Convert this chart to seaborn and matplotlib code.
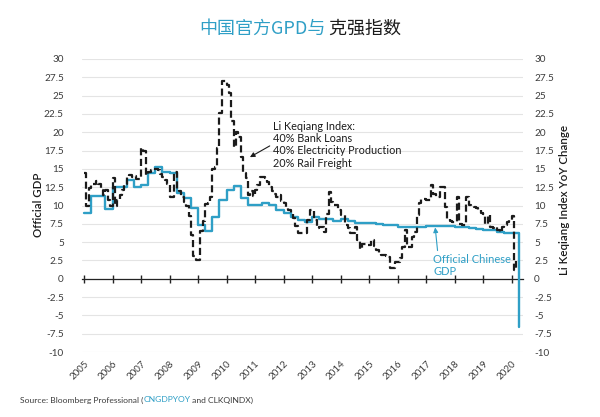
import numpy as np
import pandas as pd
import matplotlib
matplotlib.use("Agg")
import matplotlib.pyplot as plt
import seaborn as sns
from matplotlib.ticker import MultipleLocator, FuncFormatter

# -----------------------------------------------------
# DATA
# -----------------------------------------------------
START_YEAR = 2005
years = list(range(2005, 2021))

# official GDP YoY, quarterly, from Q1 2005
gdp_values = [
    9.0, 11.3, 11.3, 9.5,
    12.5, 12.5, 13.5, 12.5,
    12.8, 14.4, 15.2, 14.6,
    14.4, 11.7, 11.0, 9.6,
    7.3, 6.5, 8.4, 10.8,
    12.1, 12.6, 11.0, 10.1,
    10.1, 10.4, 10.1, 9.4,
    9.0, 8.4, 8.0, 7.8,
    8.4, 8.1, 8.1, 7.9,
    8.2, 7.9, 7.6, 7.6,
    7.55, 7.5, 7.3, 7.3,
    7.1, 7.1, 7.0, 7.1,
    7.15, 7.2, 7.25, 7.2,
    7.1, 7.0, 6.9, 6.8,
    6.7, 6.6, 6.4, 6.3,
    6.3, -6.6,
]

# Li Keqiang index YoY, monthly, from Jan 2005
lk_values = [
    14.4, 10.0, 12.4, 12.8, 13.0, 13.3, 13.0, 12.1, 11.4, 12.1, 10.7, 10.0,   # 2005
    13.7, 10.0, 10.7, 11.4, 12.1, 13.0, 13.9, 14.1, 13.9, 14.0, 13.6, 13.6,   # 2006
    17.9, 17.4, 14.2, 14.6, 14.8, 15.0, 15.0, 14.8, 14.3, 13.9, 13.5, 13.0,   # 2007
    11.2, 11.2, 14.6, 12.1, 12.0, 11.2, 10.5, 9.9, 8.5, 6.0, 3.1, 2.6,        # 2008
    2.6, 6.5, 7.9, 10.2, 10.3, 11.1, 15.0, 15.3, 17.8, 22.6, 27.0, 27.0,      # 2009
    26.5, 25.3, 21.6, 18.0, 20.0, 19.4, 16.6, 14.4, 13.8, 11.4, 12.0, 11.3,   # 2010
    12.1, 12.8, 13.9, 13.9, 13.7, 13.2, 12.5, 12.0, 11.6, 11.2, 11.4, 10.6,   # 2011
    10.3, 9.8, 9.4, 8.8, 8.3, 7.2, 6.2, 6.2, 6.2, 6.2, 8.0, 9.4,              # 2012
    9.4, 8.0, 6.9, 7.1, 7.1, 6.4, 8.9, 11.9, 10.5, 10.1, 10.1, 9.4,           # 2013
    8.7, 8.7, 7.3, 6.9, 6.2, 6.2, 7.1, 5.3, 4.1, 4.8, 4.8, 4.6,               # 2014
    4.6, 5.3, 4.5, 3.9, 3.5, 3.3, 3.2, 3.1, 3.0, 1.5, 1.5, 2.3,               # 2015
    2.3, 2.8, 4.4, 6.7, 4.4, 4.4, 5.7, 6.4, 8.7, 10.3, 10.9, 10.9,            # 2016
    10.7, 10.7, 12.8, 11.6, 11.2, 11.2, 12.5, 12.5, 9.8, 8.2, 7.9, 7.8,       # 2017
    7.8, 11.2, 7.5, 7.3, 7.3, 11.2, 10.1, 10.0, 9.8, 9.6, 9.4, 9.0,           # 2018
    8.9, 7.5, 8.7, 7.0, 6.9, 7.1, 6.6, 6.4, 7.1, 7.4, 7.8, 8.0,               # 2019
    8.5, 1.2, 2.4,                                                            # 2020
]

index_note = "Li Keqiang Index:\n40% Bank Loans\n40% Electricity Production\n20% Rail Freight"
gdp_note = "Official Chinese\nGDP"

BLUE = "#2f9fc6"
DARK = "#1b1b1b"
GREY = "#3c3c3c"

gdp = pd.DataFrame({"t": START_YEAR + np.arange(len(gdp_values)) / 4, "v": gdp_values})
lk = pd.DataFrame({"t": START_YEAR + np.arange(len(lk_values)) / 12, "v": lk_values})

# -----------------------------------------------------
# PLOT
# -----------------------------------------------------
sns.set_theme(style="white")
plt.rcParams["font.family"] = ["Lato", "DejaVu Sans"]

fig = plt.figure(figsize=(6, 4.17), dpi=100)
ax = fig.add_axes([82 / 600, 1 - 352 / 417, 441 / 600, 293 / 417])

YMIN, YMAX = -10, 30
ax.set_ylim(YMIN, YMAX)
ax.set_xlim(2004.93, 2020.40)

ax.yaxis.set_major_locator(MultipleLocator(2.5))
ax.yaxis.set_major_formatter(FuncFormatter(lambda v, p: f"{v:g}"))
ax.grid(axis="y", color="#e4e4e4", lw=0.8)
ax.grid(axis="x", visible=False)
for k in ("top", "left", "right"):
    ax.spines[k].set_visible(False)

# bottom spine moved onto the zero line, carrying the year ticks
ax.spines["bottom"].set_position(("data", 0))
ax.spines["bottom"].set_color("#222222")
ax.spines["bottom"].set_linewidth(0.9)
ax.spines["bottom"].set_zorder(2)

sns.lineplot(data=gdp, x="t", y="v", ax=ax, color=BLUE, lw=1.7,
             drawstyle="steps-post", estimator=None, zorder=3)
sns.lineplot(data=lk, x="t", y="v", ax=ax, color=DARK, lw=1.6,
             ls=(0, (3.2, 1.6)), drawstyle="steps-post", estimator=None, zorder=4)

ax.set_xlabel("")
ax.set_ylabel("")
ax.set_xticks(years)
ax.set_xticklabels([])
ax.tick_params(axis="x", bottom=True, direction="inout", length=6, width=1.0,
               color="#222222")
ax.tick_params(axis="y", length=0, pad=13, labelsize=7.2, labelcolor=GREY)

# year labels along the bottom edge
lab = ax.secondary_xaxis("bottom")
lab.set_xticks(years)
lab.set_xticklabels([str(y) for y in years], rotation=45, ha="right",
                    rotation_mode="anchor", fontsize=7, color=GREY)
lab.tick_params(axis="x", length=0, pad=5)
for s in lab.spines.values():
    s.set_visible(False)

ax2 = ax.twinx()
ax2.set_ylim(YMIN, YMAX)
ax2.yaxis.set_major_locator(MultipleLocator(2.5))
ax2.yaxis.set_major_formatter(FuncFormatter(lambda v, p: f"{v:g}"))
ax2.tick_params(axis="y", length=0, pad=8, labelsize=7.2, labelcolor=GREY)
ax2.grid(False)
for s in ax2.spines.values():
    s.set_visible(False)

# annotations
ax.annotate(index_note, xy=(2010.82, 16.6), xytext=(2011.63, 21.6),
            fontsize=7.8, color=DARK, va="top", ha="left", linespacing=1.15,
            arrowprops=dict(arrowstyle="-|>", color=DARK, lw=0.8,
                            shrinkA=0, shrinkB=0, mutation_scale=7,
                            relpos=(-0.02, 0.48)))
ax.annotate(gdp_note, xy=(2017.32, 7.0), xytext=(2017.25, 3.4),
            fontsize=8, color=BLUE, va="top", ha="left", linespacing=1.1,
            arrowprops=dict(arrowstyle="-|>", color=BLUE, lw=0.8,
                            shrinkA=0, shrinkB=0, mutation_scale=7,
                            relpos=(0.06, 1.0)))

# axis titles
fig.text(38 / 600, 1 - 205 / 417, "Official GDP", rotation=90, ha="center",
         va="center", fontsize=8.3, color=DARK, fontweight="semibold")
fig.text(565 / 600, 1 - 200 / 417, "Li Keqiang Index YoY Change", rotation=90,
         ha="center", va="center", fontsize=8.3, color=DARK, fontweight="semibold")

# two-colour title, centred as a whole
cjk = ["Noto Sans CJK SC", "DejaVu Sans"]
t1 = fig.text(0.5, 1 - 28.5 / 417, "中国官方GPD与", family=cjk, fontsize=13,
              color=BLUE, ha="left", va="center")
t2 = ax.annotate(" 克强指数", xy=(1, 0.5), xycoords=t1, family=cjk, fontsize=13,
                 color=DARK, ha="left", va="center", annotation_clip=False)
fig.canvas.draw()
r = fig.canvas.get_renderer()
w = (t1.get_window_extent(r).width + t2.get_window_extent(r).width) / fig.bbox.width
t1.set_x(0.5 - w / 2)

# source line
s1 = fig.text(20 / 600, 1 - 400 / 417, "Source: Bloomberg Professional (",
              fontsize=6.1, color=GREY, va="center")
s2 = ax.annotate("CNGDPYOY", xy=(1, 0.5), xycoords=s1, fontsize=6.1,
                 color=BLUE, va="center", annotation_clip=False)
ax.annotate(" and CLKQINDX)", xy=(1, 0.5), xycoords=s2, fontsize=6.1,
            color=GREY, va="center", annotation_clip=False)

fig.savefig("out.png", dpi=100)
